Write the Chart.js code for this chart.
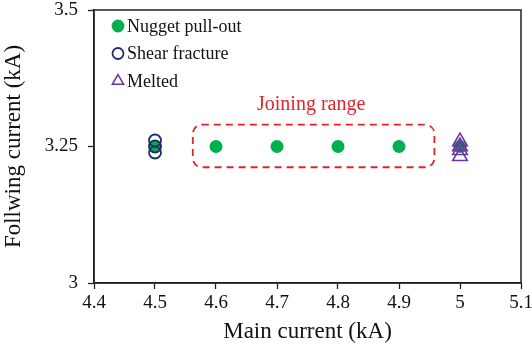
<!DOCTYPE html>
<html>
<head>
<meta charset="utf-8">
<script src="https://cdn.jsdelivr.net/npm/chart.js@4/dist/chart.umd.min.js"></script>
<style>
html,body{margin:0;padding:0;background:#fff;}
#wrap{width:532px;height:357px;position:relative;}
</style>
</head>
<body>
<div id="wrap"><canvas id="c" width="532" height="357"></canvas></div>
<script>
// ---- data ----
const nuggetX = [4.5, 4.6, 4.7, 4.8, 4.9, 5.0];
const nuggetY = [3.25, 3.25, 3.25, 3.25, 3.25, 3.25];
const shearX = [4.5, 4.5, 4.5];
const shearY = [3.261, 3.25, 3.239];
const meltedX = [5.0, 5.0, 5.0, 5.0];
const meltedY = [3.259, 3.25, 3.243, 3.232];
const xTickValues = [4.4, 4.5, 4.6, 4.7, 4.8, 4.9, 5.0, 5.1];
const yTickValues = [3, 3.25, 3.5];
const seriesNames = ['Nugget pull-out', 'Shear fracture', 'Melted'];
const joiningLabel = 'Joining range';
const joiningBox = {x1: 4.562, x2: 4.958, y1: 3.212, y2: 3.290};
const joiningTextPos = {x: 4.756, y: 3.326};

const toPts = (xs, ys) => xs.map((x, i) => ({x: x, y: ys[i]}));
const SERIF = '"Liberation Serif", "DejaVu Serif", serif';
const fmt = v => String(+(+v).toFixed(2));

const extras = {
  id: 'extras',
  afterDraw(chart) {
    const ctx = chart.ctx, a = chart.chartArea;
    const xs = chart.scales.x, ys = chart.scales.y;
    ctx.save();
    // frame
    ctx.strokeStyle = '#222';
    ctx.lineWidth = 1.5;
    ctx.strokeRect(a.left, a.top, a.right - a.left, a.bottom - a.top);
    // joining range box
    const bx1 = xs.getPixelForValue(joiningBox.x1), bx2 = xs.getPixelForValue(joiningBox.x2);
    const by1 = ys.getPixelForValue(joiningBox.y2), by2 = ys.getPixelForValue(joiningBox.y1);
    ctx.strokeStyle = '#e8212a';
    ctx.lineWidth = 1.8;
    ctx.setLineDash([7, 5]);
    ctx.beginPath();
    if (ctx.roundRect) ctx.roundRect(bx1, by1, bx2 - bx1, by2 - by1, 9);
    else ctx.rect(bx1, by1, bx2 - bx1, by2 - by1);
    ctx.stroke();
    ctx.setLineDash([]);
    ctx.fillStyle = '#e8212a';
    ctx.font = '20px ' + SERIF;
    ctx.textAlign = 'center';
    ctx.textBaseline = 'middle';
    ctx.fillText(joiningLabel, xs.getPixelForValue(joiningTextPos.x), ys.getPixelForValue(joiningTextPos.y));
    // legend
    const ds = chart.data.datasets;
    ctx.font = '18px ' + SERIF;
    ctx.textAlign = 'left';
    [0, 1, 2].forEach((k, i) => {
      const d = ds[k];
      const cx = a.left + 24, cy = a.top + 16 + i * 27.5;
      ctx.fillStyle = d.backgroundColor;
      ctx.strokeStyle = d.borderColor;
      ctx.lineWidth = k === 0 ? 0 : d.borderWidth;
      Chart.helpers.drawPoint(ctx, {pointStyle: d.pointStyle, radius: k === 2 ? 6.5 : 5.5, rotation: 0, borderWidth: ctx.lineWidth}, cx, cy);
      ctx.fillStyle = '#111';
      ctx.fillText(d.label, cx + 9, cy + 1);
    });
    ctx.restore();
  }
};

new Chart(document.getElementById('c'), {
  type: 'scatter',
  data: {
    datasets: [
      {label: seriesNames[0], data: toPts(nuggetX, nuggetY), pointStyle: 'circle', pointRadius: 6.5,
       backgroundColor: '#00b050', borderColor: '#00b050', borderWidth: 0, order: 3},
      {label: seriesNames[1], data: toPts(shearX, shearY), pointStyle: 'circle', pointRadius: 6,
       backgroundColor: 'rgba(0,0,0,0)', borderColor: '#1f2d6b', borderWidth: 1.8, order: 2},
      {label: seriesNames[2], data: toPts(meltedX, meltedY), pointStyle: 'triangle', pointRadius: 8.5,
       backgroundColor: 'rgba(0,0,0,0)', borderColor: '#7030a0', borderWidth: 1.5, order: 1}
    ]
  },
  options: {
    responsive: false,
    animation: false,
    devicePixelRatio: 1,
    layout: {padding: {top: 7, right: 11, left: 0, bottom: 0}},
    plugins: {legend: {display: false}, tooltip: {enabled: false}},
    scales: {
      x: {
        type: 'linear', min: 4.4, max: 5.1,
        afterBuildTicks: s => { s.ticks = xTickValues.map(v => ({value: v})); },
        afterFit: s => { s.height = 74; s.paddingLeft = 0; s.paddingRight = 0; },
        ticks: {callback: fmt, color: '#111', font: {family: SERIF, size: 19}, padding: 3, maxRotation: 0, autoSkip: false},
        grid: {drawOnChartArea: false, color: '#222', tickLength: 6, tickWidth: 1.3},
        border: {color: '#222', width: 1.5},
        title: {display: true, text: 'Main current (kA)', color: '#111', font: {family: SERIF, size: 23}, padding: {top: 0, bottom: 11}}
      },
      y: {
        type: 'linear', min: 3, max: 3.5,
        afterBuildTicks: s => { s.ticks = yTickValues.map(v => ({value: v})); },
        afterFit: s => { s.width = 94; s.paddingTop = 0; s.paddingBottom = 0; },
        ticks: {callback: fmt, color: '#111', font: {family: SERIF, size: 19}, padding: 10},
        grid: {drawOnChartArea: false, color: '#222', tickLength: 6, tickWidth: 1.3},
        border: {color: '#222', width: 1.5},
        title: {display: true, text: 'Follwing current (kA)', color: '#111', font: {family: SERIF, size: 23}, padding: {top: 0, bottom: 0}}
      }
    }
  },
  plugins: [extras]
});
</script>
</body>
</html>
